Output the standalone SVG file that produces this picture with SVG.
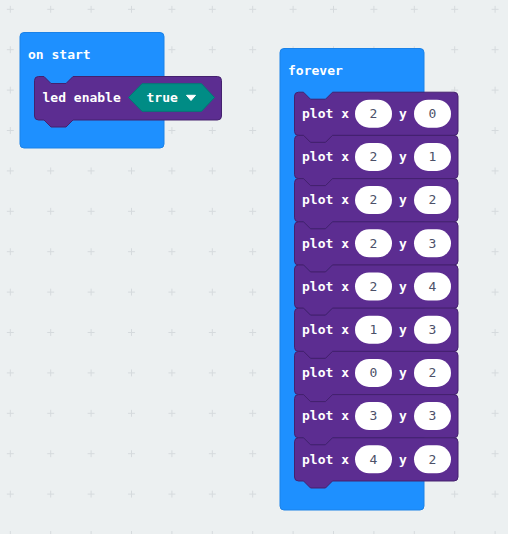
<svg xmlns="http://www.w3.org/2000/svg" width="508" height="534" viewBox="0 0 508 534">
<defs>
<style>
.bg{fill:#ecf0f1}
.cross{stroke:#d5dadd;stroke-width:1}
.event{fill:#1e90ff;stroke:#1a82e8;stroke-width:1}
.stmt{fill:#5c2d91;stroke:#44216e;stroke-width:1}
.lbl{font-family:"DejaVu Sans Mono","Liberation Mono",monospace;font-weight:bold;font-size:13px;fill:#ffffff}
.num{font-family:"DejaVu Sans Mono","Liberation Mono",monospace;font-size:13px;fill:#4c5068;text-anchor:middle}
.oval{fill:#ffffff}
.bool{fill:#008c85;stroke:#007a74;stroke-width:1;stroke-linejoin:round}
</style>
<pattern id="grid" patternUnits="userSpaceOnUse" x="-9.9" y="-10.9" width="40.4" height="40.4">
<path class="cross" d="M16.7 20.2 H23.7 M20.2 16.7 V23.7"/>
</pattern>
<path id="plotShape" d="M0.5,4.5 a4,4 0 0 1 4,-4 H9.5 l7,7 h15 l7,-7 H160 a4,4 0 0 1 4,4 V39.7 a4,4 0 0 1 -4,4 H38.5 l-7,7 h-15 l-7,-7 H4.5 a4,4 0 0 1 -4,-4 Z"/>
</defs>
<rect class="bg" x="0" y="0" width="508" height="534"/>
<rect x="0" y="0" width="508" height="534" fill="url(#grid)"/>

<g id="on-start">
<rect class="event" x="20" y="32.5" width="144" height="115.5" rx="4"/>
<text class="lbl" x="28" y="58.5">on start</text>
</g>
<g id="led-enable">
<path class="stmt" d="M34.5,80.5 a4,4 0 0 1 4,-4 H44 l7,7 h15 l7,-7 H217.5 a4,4 0 0 1 4,4 V116 a4,4 0 0 1 -4,4 H73 l-7,7 h-15 l-7,-7 H38.5 a4,4 0 0 1 -4,-4 Z"/>
<text class="lbl" x="42.5" y="102">led enable</text>
<g id="bool-true">
<path class="bool" d="M128.5,97.5 L142,83.7 H201.5 L214.5,97.5 L201.5,111.3 H142 Z"/>
<text class="lbl" x="146.5" y="102">true</text>
<path d="M186.5,95.3 H195.5 L191,100.5 Z" fill="#ffffff" stroke="#ffffff" stroke-width="1" stroke-linejoin="round"/>
</g>
</g>

<g id="forever">
<rect class="event" x="280" y="48.5" width="144" height="461.5" rx="4"/>
<text class="lbl" x="288" y="74.5">forever</text>
</g>

<g id="plot-0" transform="translate(294,91.7)">
<use href="#plotShape" class="stmt"/>
<text class="lbl" x="8" y="26.3">plot x</text>
<rect class="oval" x="61" y="8" width="37" height="28" rx="14"/>
<text class="num" x="79.5" y="26.3">2</text>
<text class="lbl" x="105" y="26.3">y</text>
<rect class="oval" x="120" y="8" width="37" height="28" rx="14"/>
<text class="num" x="138.5" y="26.3">0</text>
</g>
<g id="plot-1" transform="translate(294,134.9)">
<use href="#plotShape" class="stmt"/>
<text class="lbl" x="8" y="26.3">plot x</text>
<rect class="oval" x="61" y="8" width="37" height="28" rx="14"/>
<text class="num" x="79.5" y="26.3">2</text>
<text class="lbl" x="105" y="26.3">y</text>
<rect class="oval" x="120" y="8" width="37" height="28" rx="14"/>
<text class="num" x="138.5" y="26.3">1</text>
</g>
<g id="plot-2" transform="translate(294,178.1)">
<use href="#plotShape" class="stmt"/>
<text class="lbl" x="8" y="26.3">plot x</text>
<rect class="oval" x="61" y="8" width="37" height="28" rx="14"/>
<text class="num" x="79.5" y="26.3">2</text>
<text class="lbl" x="105" y="26.3">y</text>
<rect class="oval" x="120" y="8" width="37" height="28" rx="14"/>
<text class="num" x="138.5" y="26.3">2</text>
</g>
<g id="plot-3" transform="translate(294,221.3)">
<use href="#plotShape" class="stmt"/>
<text class="lbl" x="8" y="26.3">plot x</text>
<rect class="oval" x="61" y="8" width="37" height="28" rx="14"/>
<text class="num" x="79.5" y="26.3">2</text>
<text class="lbl" x="105" y="26.3">y</text>
<rect class="oval" x="120" y="8" width="37" height="28" rx="14"/>
<text class="num" x="138.5" y="26.3">3</text>
</g>
<g id="plot-4" transform="translate(294,264.5)">
<use href="#plotShape" class="stmt"/>
<text class="lbl" x="8" y="26.3">plot x</text>
<rect class="oval" x="61" y="8" width="37" height="28" rx="14"/>
<text class="num" x="79.5" y="26.3">2</text>
<text class="lbl" x="105" y="26.3">y</text>
<rect class="oval" x="120" y="8" width="37" height="28" rx="14"/>
<text class="num" x="138.5" y="26.3">4</text>
</g>
<g id="plot-5" transform="translate(294,307.7)">
<use href="#plotShape" class="stmt"/>
<text class="lbl" x="8" y="26.3">plot x</text>
<rect class="oval" x="61" y="8" width="37" height="28" rx="14"/>
<text class="num" x="79.5" y="26.3">1</text>
<text class="lbl" x="105" y="26.3">y</text>
<rect class="oval" x="120" y="8" width="37" height="28" rx="14"/>
<text class="num" x="138.5" y="26.3">3</text>
</g>
<g id="plot-6" transform="translate(294,350.9)">
<use href="#plotShape" class="stmt"/>
<text class="lbl" x="8" y="26.3">plot x</text>
<rect class="oval" x="61" y="8" width="37" height="28" rx="14"/>
<text class="num" x="79.5" y="26.3">0</text>
<text class="lbl" x="105" y="26.3">y</text>
<rect class="oval" x="120" y="8" width="37" height="28" rx="14"/>
<text class="num" x="138.5" y="26.3">2</text>
</g>
<g id="plot-7" transform="translate(294,394.1)">
<use href="#plotShape" class="stmt"/>
<text class="lbl" x="8" y="26.3">plot x</text>
<rect class="oval" x="61" y="8" width="37" height="28" rx="14"/>
<text class="num" x="79.5" y="26.3">3</text>
<text class="lbl" x="105" y="26.3">y</text>
<rect class="oval" x="120" y="8" width="37" height="28" rx="14"/>
<text class="num" x="138.5" y="26.3">3</text>
</g>
<g id="plot-8" transform="translate(294,437.3)">
<use href="#plotShape" class="stmt"/>
<text class="lbl" x="8" y="26.3">plot x</text>
<rect class="oval" x="61" y="8" width="37" height="28" rx="14"/>
<text class="num" x="79.5" y="26.3">4</text>
<text class="lbl" x="105" y="26.3">y</text>
<rect class="oval" x="120" y="8" width="37" height="28" rx="14"/>
<text class="num" x="138.5" y="26.3">2</text>
</g>
<g id="connectors"></g>
</svg>
